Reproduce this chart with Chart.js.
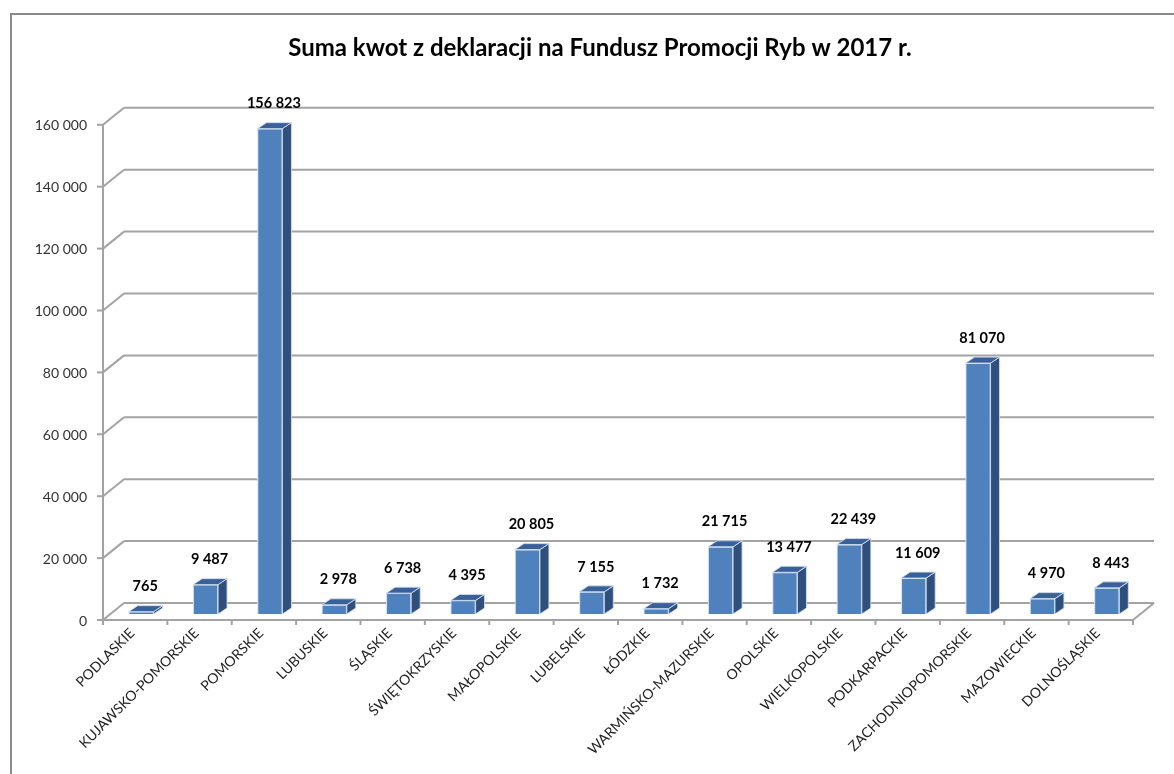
<!DOCTYPE html>
<html>
<head>
<meta charset="utf-8">
<script src="https://cdn.jsdelivr.net/npm/chart.js@4.4.1/dist/chart.umd.min.js"></script>
<style>
  html, body { margin: 0; padding: 0; background: #fff; }
  #wrap { width: 1174px; height: 774px; }
</style>
</head>
<body>
<div id="wrap"><canvas id="chart" width="1174" height="774"></canvas></div>
<script>
// ── Data ──
const categories = [
  'PODLASKIE', 'KUJAWSKO-POMORSKIE', 'POMORSKIE', 'LUBUSKIE', 'ŚLĄSKIE',
  'ŚWIĘTOKRZYSKIE', 'MAŁOPOLSKIE', 'LUBELSKIE', 'ŁÓDZKIE', 'WARMIŃSKO-MAZURSKIE',
  'OPOLSKIE', 'WIELKOPOLSKIE', 'PODKARPACKIE', 'ZACHODNIOPOMORSKIE', 'MAZOWIECKIE',
  'DOLNOŚLĄSKIE'
];
const amounts = [765, 9487, 156823, 2978, 6738, 4395, 20805, 7155, 1732, 21715, 13477, 22439, 11609, 81070, 4970, 8443];
const yMin = 0;
const yMax = 160000;
const yStep = 20000;
const chartTitle = 'Suma kwot z deklaracji na Fundusz Promocji Ryb w 2017 r.';

// ── Look ──
const FONT = 'Lato, "Open Sans", sans-serif';
const GRID = '#a3a3a3';
const FRONT = { dx: -6, dy: 6 };   // front plane offset from bar plane
const BACK = { dx: 15, dy: -11 };  // back wall offset from bar plane
const DEPTH = { dx: 9, dy: -6 };   // bar depth

function fmt(v) {
  return String(v).replace(/\B(?=(\d{3})+(?!\d))/g, ' ');
}

function line(ctx, x1, y1, x2, y2) {
  ctx.beginPath();
  ctx.moveTo(x1, y1);
  ctx.lineTo(x2, y2);
  ctx.stroke();
}

// frame + back wall, side wall and floor
const wallsPlugin = {
  id: 'walls',
  beforeDraw(chart) {
    const ctx = chart.ctx;
    ctx.save();
    ctx.strokeStyle = '#8a8a8a';
    ctx.lineWidth = 2;
    ctx.beginPath();
    ctx.moveTo(11, 774);
    ctx.lineTo(11, 14);
    ctx.lineTo(1174, 14);
    ctx.stroke();
    ctx.restore();
  },
  beforeDatasetsDraw(chart) {
    const ctx = chart.ctx;
    const a = chart.chartArea;
    const ys = chart.scales.y;
    ctx.save();
    ctx.strokeStyle = GRID;
    ctx.lineWidth = 2;
    ctx.lineCap = 'butt';

    ys.ticks.forEach(t => {
      const y = ys.getPixelForValue(t.value);
      // back wall gridline
      line(ctx, a.left + BACK.dx, y + BACK.dy, a.right + BACK.dx, y + BACK.dy);
      // side wall diagonal
      line(ctx, a.left + FRONT.dx, y + FRONT.dy, a.left + BACK.dx, y + BACK.dy);
      // tick mark
      line(ctx, a.left + FRONT.dx, y + FRONT.dy, a.left + FRONT.dx - 6, y + FRONT.dy);
    });

    // front vertical axis
    line(ctx, a.left + FRONT.dx, a.top + FRONT.dy, a.left + FRONT.dx, a.bottom + FRONT.dy);
    // floor front edge and right edge
    line(ctx, a.left + FRONT.dx, a.bottom + FRONT.dy, a.right + FRONT.dx, a.bottom + FRONT.dy);
    line(ctx, a.right + FRONT.dx, a.bottom + FRONT.dy, a.right + BACK.dx, a.bottom + BACK.dy);

    // category tick marks
    const n = categories.length;
    for (let i = 0; i <= n; i++) {
      const x = a.left + (a.right - a.left) * i / n + FRONT.dx;
      line(ctx, x, a.bottom + FRONT.dy, x, a.bottom + FRONT.dy + 5);
    }
    ctx.restore();
  }
};

// side and top faces of the columns, then the value labels
const boxPlugin = {
  id: 'box3d',
  afterDatasetsDraw(chart) {
    const ctx = chart.ctx;
    const meta = chart.getDatasetMeta(0);
    ctx.save();
    meta.data.forEach((bar, i) => {
      const w = bar.width;
      const l = bar.x - w / 2;
      const r = bar.x + w / 2;
      const top = bar.y;
      const base = bar.base;

      // side
      ctx.fillStyle = '#2f4f7d';
      ctx.beginPath();
      ctx.moveTo(r, top);
      ctx.lineTo(r + DEPTH.dx, top + DEPTH.dy);
      ctx.lineTo(r + DEPTH.dx, base + DEPTH.dy);
      ctx.lineTo(r, base);
      ctx.closePath();
      ctx.fill();
      ctx.strokeStyle = 'rgba(210,222,238,0.9)';
      ctx.lineWidth = 1;
      ctx.stroke();

      // top
      ctx.fillStyle = '#3a609a';
      ctx.beginPath();
      ctx.moveTo(l, top);
      ctx.lineTo(l + DEPTH.dx, top + DEPTH.dy);
      ctx.lineTo(r + DEPTH.dx, top + DEPTH.dy);
      ctx.lineTo(r, top);
      ctx.closePath();
      ctx.fill();
      ctx.stroke();

      // value label
      ctx.fillStyle = '#000';
      ctx.font = 'bold 14.5px ' + FONT;
      ctx.textAlign = 'center';
      ctx.textBaseline = 'middle';
      ctx.fillText(fmt(amounts[i]), bar.x + 4, top - 25);
    });
    ctx.restore();
  }
};

new Chart(document.getElementById('chart'), {
  type: 'bar',
  data: {
    labels: categories,
    datasets: [{
      data: amounts,
      backgroundColor: '#4f81bd',
      borderColor: 'rgba(214,226,241,0.95)',
      borderWidth: 1.2,
      barThickness: 25,
      categoryPercentage: 1,
      barPercentage: 1
    }]
  },
  options: {
    responsive: false,
    animation: false,
    layout: { padding: { left: 26, right: 0, top: 0, bottom: 0 } },
    plugins: {
      legend: { display: false },
      tooltip: { enabled: false },
      title: {
        display: true,
        text: chartTitle,
        color: '#000',
        font: { family: FONT, size: 24, weight: 'bold' },
        padding: { top: 34, bottom: 56 }
      }
    },
    scales: {
      x: {
        grid: { display: false, drawTicks: false },
        border: { display: false },
        ticks: {
          color: '#222',
          font: { family: FONT, size: 14 },
          maxRotation: 45,
          minRotation: 45,
          autoSkip: false,
          padding: 11,
          labelOffset: -9
        },
        afterFit(scale) { scale.height = 160; }
      },
      y: {
        min: yMin,
        max: yMax,
        grid: { display: false, drawTicks: false },
        border: { display: false },
        ticks: {
          stepSize: yStep,
          color: '#333',
          font: { family: FONT, size: 14 },
          padding: 22,
          labelOffset: 7,
          callback: v => fmt(v)
        },
        afterFit(scale) { scale.width = 83; }
      },
      // empty right-hand axis, only reserves the space right of the floor
      y2: {
        position: 'right',
        grid: { display: false, drawTicks: false },
        border: { display: false },
        ticks: { display: false },
        afterFit(scale) { scale.width = 35; }
      }
    }
  },
  plugins: [wallsPlugin, boxPlugin]
});
</script>
</body>
</html>
